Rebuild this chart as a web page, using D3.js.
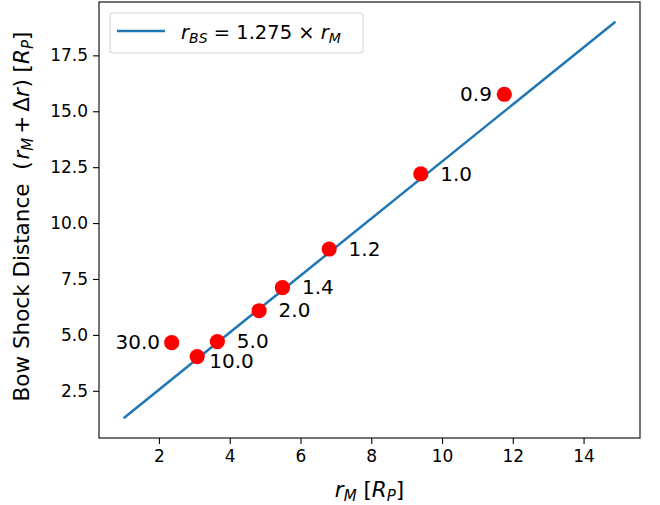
<!DOCTYPE html>
<html>
<head>
<meta charset="utf-8">
<script src="https://cdn.jsdelivr.net/npm/d3@7"></script>
<style>
  body { margin: 0; background: #fff; }
  text { font-family: "DejaVu Sans", sans-serif; fill: #000; white-space: pre; }
</style>
</head>
<body>
<div id="chart"></div>
<script>
// ===========Data
var magRadius = [11.76, 9.40, 6.81, 5.49, 4.83, 3.65, 3.08, 2.36];
var bowShock  = [15.76, 12.20, 8.84, 7.11, 6.08, 4.70, 4.03, 4.65];
var pointLabels = ["0.9", "1.0", "1.2", "1.4", "2.0", "5.0", "10.0", "30.0"];
// label offsets in data units (like annotate xytext)
var labelDx = [-0.35, 0.55, 0.55, 0.55, 0.55, 0.55, 0.34, -0.33];
var labelDy = [-0.3, -0.3, -0.3, -0.3, -0.3, -0.3, -0.5, -0.3];

var fitX = [1.0, 14.9];
var fitY = [1.275, 19.0];

var xTicks = [2, 4, 6, 8, 10, 12, 14];
var yTicks = [2.5, 5.0, 7.5, 10.0, 12.5, 15.0, 17.5];

// ===========Set Height, Width and Margins
var svgWidth = 660;
var svgHeight = 505;
var margin = { top: 2, right: 20, bottom: 67, left: 99 };
var width = svgWidth - margin.left - margin.right;
var height = svgHeight - margin.top - margin.bottom;

var svg = d3.select("#chart").append("svg")
    .attr("width", svgWidth)
    .attr("height", svgHeight);

var chartGroup = svg.append("g")
    .attr("transform", `translate(${margin.left}, ${margin.top})`);

// ==========Scales (matplotlib style 5% margins)
var xLinearScale = d3.scaleLinear()
    .domain([0.305, 15.595])
    .range([0, width]);

var yLinearScale = d3.scaleLinear()
    .domain([0.389, 19.886])
    .range([height, 0]);

// ==========Axes
var bottomAxis = d3.axisBottom(xLinearScale)
    .tickValues(xTicks)
    .tickSize(6)
    .tickPadding(5)
    .tickFormat(d3.format("d"));

var leftAxis = d3.axisLeft(yLinearScale)
    .tickValues(yTicks)
    .tickSize(6)
    .tickPadding(5)
    .tickFormat(d3.format(".1f"));

var xAxis = chartGroup.append("g")
    .attr("transform", `translate(0, ${height})`)
    .call(bottomAxis);

var yAxis = chartGroup.append("g")
    .call(leftAxis);

[xAxis, yAxis].forEach(function(ax) {
    ax.select(".domain").remove();
    ax.selectAll(".tick line").attr("stroke", "#000").attr("stroke-width", 1.1);
    ax.selectAll(".tick text")
        .style("font-family", "DejaVu Sans")
        .style("font-size", "17px")
        .attr("fill", "#000");
});
xAxis.selectAll(".tick text").attr("dy", "0.74em");

// ===========Fit line
var line = d3.line()
    .x(d => xLinearScale(d[0]))
    .y(d => yLinearScale(d[1]));

chartGroup.append("path")
    .datum(d3.zip(fitX, fitY))
    .attr("d", line)
    .attr("fill", "none")
    .attr("stroke", "#1f77b4")
    .attr("stroke-width", 2.5);

// ===========Points
chartGroup.selectAll("circle.pt")
    .data(magRadius)
    .enter()
    .append("circle")
    .attr("class", "pt")
    .attr("cx", d => xLinearScale(d))
    .attr("cy", (d, i) => yLinearScale(bowShock[i]))
    .attr("r", 7.6)
    .attr("fill", "#ff0000");

// ===========Point labels
chartGroup.selectAll("text.lbl")
    .data(pointLabels)
    .enter()
    .append("text")
    .attr("class", "lbl")
    .attr("x", (d, i) => xLinearScale(magRadius[i] + labelDx[i]))
    .attr("y", (d, i) => yLinearScale(bowShock[i] + labelDy[i]))
    .attr("text-anchor", (d, i) => labelDx[i] < 0 ? "end" : "start")
    .style("font-size", "20px")
    .text(d => d);

// ===========Frame
chartGroup.append("rect")
    .attr("width", width)
    .attr("height", height)
    .attr("fill", "none")
    .attr("stroke", "#000")
    .attr("stroke-width", 1.1);

// ===========Legend
var legend = chartGroup.append("g")
    .attr("transform", "translate(11, 11)");

legend.append("rect")
    .attr("width", 253)
    .attr("height", 40)
    .attr("rx", 3)
    .attr("fill", "#fff")
    .attr("fill-opacity", 0.8)
    .attr("stroke", "#d5d5d5")
    .attr("stroke-width", 1.1);

legend.append("line")
    .attr("x1", 7).attr("x2", 55)
    .attr("y1", 18).attr("y2", 18)
    .attr("stroke", "#1f77b4")
    .attr("stroke-width", 2.5);

var legText = legend.append("text")
    .attr("x", 71)
    .attr("y", 26)
    .style("font-size", "19.5px");
legText.append("tspan").style("font-style", "italic").text("r");
legText.append("tspan").style("font-style", "italic").style("font-size", "14px")
    .attr("dy", 3.5).text("BS");
legText.append("tspan").attr("dy", -3.5).text(" = 1.275 × ");
legText.append("tspan").style("font-style", "italic").text("r");
legText.append("tspan").style("font-style", "italic").style("font-size", "14px")
    .attr("dy", 3.5).text("M");

// ===========Axis labels
var xLabel = svg.append("text")
    .attr("x", margin.left + width / 2)
    .attr("y", 497)
    .attr("text-anchor", "middle")
    .style("font-size", "21.5px");
xLabel.append("tspan").style("font-style", "italic").text("r");
xLabel.append("tspan").style("font-style", "italic").style("font-size", "15px")
    .attr("dy", 4).text("M");
xLabel.append("tspan").attr("dy", -4).text(" [");
xLabel.append("tspan").style("font-style", "italic").text("R");
xLabel.append("tspan").style("font-style", "italic").style("font-size", "15px")
    .attr("dy", 4).text("P");
xLabel.append("tspan").attr("dy", -4).text("]");

var yLabel = svg.append("text")
    .attr("transform", "translate(29, 216.5) rotate(-90)")
    .attr("text-anchor", "middle")
    .style("font-size", "21.5px");
yLabel.append("tspan").text("Bow Shock Distance  (");
yLabel.append("tspan").style("font-style", "italic").attr("dx", 2).text("r");
yLabel.append("tspan").style("font-style", "italic").style("font-size", "15px")
    .attr("dy", 4).text("M");
yLabel.append("tspan").attr("dy", -4).attr("dx", 4).text("+");
yLabel.append("tspan").attr("dx", 4).text("Δ");
yLabel.append("tspan").style("font-style", "italic").text("r");
yLabel.append("tspan").attr("dx", 0.5).text(") [");
yLabel.append("tspan").style("font-style", "italic").text("R");
yLabel.append("tspan").style("font-style", "italic").style("font-size", "15px")
    .attr("dy", 4).text("P");
yLabel.append("tspan").attr("dy", -4).text("]");
</script>
</body>
</html>
